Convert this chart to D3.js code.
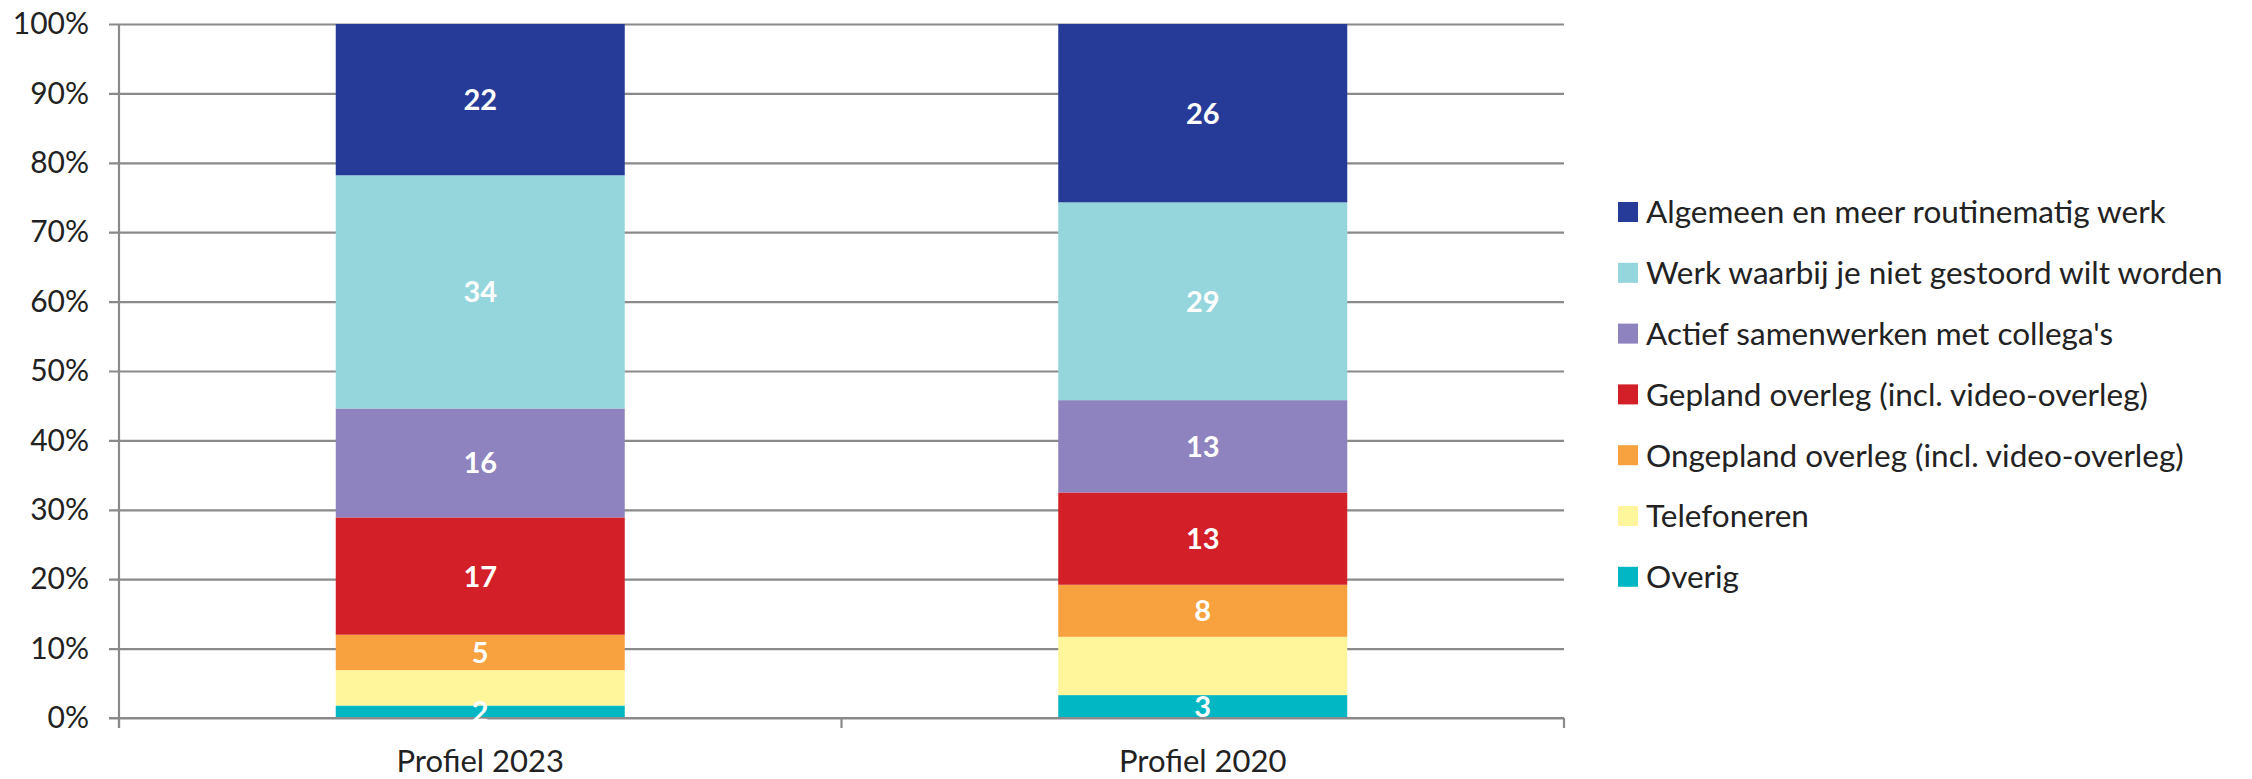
<!DOCTYPE html>
<html>
<head>
<meta charset="utf-8">
<script src="https://cdn.jsdelivr.net/npm/d3@7"></script>
<style>
  html, body { margin: 0; padding: 0; background: #ffffff; }
  svg { display: block; }
  text { font-family: Lato, "Open Sans", sans-serif; }
</style>
</head>
<body>
<svg id="chart" width="2252" height="779"></svg>
<script>
// ---- Data ----
const categories = ["Profiel 2023", "Profiel 2020"];
// series listed top-to-bottom as in the legend
const seriesNames = [
  "Algemeen en meer routinematig werk",
  "Werk waarbij je niet gestoord wilt worden",
  "Actief samenwerken met collega's",
  "Gepland overleg (incl. video-overleg)",
  "Ongepland overleg (incl. video-overleg)",
  "Telefoneren",
  "Overig"
];
const values2023 = [21.8, 33.6, 15.7, 16.9, 5.1, 5.1, 1.8];
const values2020 = [25.7, 28.5, 13.3, 13.3, 7.5, 8.4, 3.3];
const seriesColors = ["#263b97", "#95d6dd", "#8e83be", "#d31f28", "#f8a13f", "#fff59b", "#00b7c3"];
const yTicks = [0, 10, 20, 30, 40, 50, 60, 70, 80, 90, 100];
const labelledSeries = seriesNames.filter(n => n !== "Telefoneren");

// ---- Layout ----
const svg = d3.select("#chart");
const mLeft = 119, mRight = 1564, mTop = 24, mBottom = 718;

const x = d3.scaleBand().domain(categories).range([mLeft, mRight]).paddingInner(0.6).paddingOuter(0.3);
const y = d3.scaleLinear().domain([0, 100]).range([mBottom, mTop]);

const table = categories.map((c, i) => {
  const row = { category: c };
  const vals = i === 0 ? values2023 : values2020;
  seriesNames.forEach((s, j) => row[s] = vals[j]);
  return row;
});

// stack bottom-to-top (reverse of legend order)
const stackOrder = seriesNames.slice().reverse();
const stack = d3.stack().keys(stackOrder)(table);
const color = d3.scaleOrdinal().domain(seriesNames).range(seriesColors);

const gridColor = "#8a8a8a";

// gridlines + y ticks
const yAxis = d3.axisLeft(y).tickValues(yTicks).tickFormat(d => d + "%")
  .tickSize(-(mRight - mLeft)).tickSizeOuter(0).tickPadding(30);
const gy = svg.append("g").attr("transform", `translate(${mLeft},0)`).call(yAxis);
gy.select(".domain").remove();
gy.selectAll(".tick line").attr("stroke", gridColor).attr("stroke-width", 2.2).attr("x1", -10);
gy.selectAll(".tick text").attr("fill", "#222").attr("font-size", 30).attr("x", -30);

// bars
const layers = svg.append("g").selectAll("g").data(stack).join("g")
  .attr("fill", d => color(d.key));
layers.selectAll("rect").data(d => d.map(p => ({ p, key: d.key }))).join("rect")
  .attr("x", d => x(d.p.data.category))
  .attr("width", x.bandwidth())
  .attr("y", d => y(d.p[1]))
  .attr("height", d => y(d.p[0]) - y(d.p[1]));

// axes lines
svg.append("line").attr("x1", mLeft).attr("x2", mLeft).attr("y1", mTop).attr("y2", mBottom + 10)
  .attr("stroke", gridColor).attr("stroke-width", 2.2);
svg.append("line").attr("x1", mLeft - 10).attr("x2", mRight).attr("y1", mBottom).attr("y2", mBottom)
  .attr("stroke", gridColor).attr("stroke-width", 2.2);
const xTickPos = [mLeft].concat(categories.map(c => x(c) + x.bandwidth() / 2 + x.step() / 2));
svg.append("g").selectAll("line").data(xTickPos).join("line")
  .attr("x1", d => d).attr("x2", d => d).attr("y1", mBottom).attr("y2", mBottom + 10)
  .attr("stroke", gridColor).attr("stroke-width", 2.2);

// x labels
svg.append("g").selectAll("text").data(categories).join("text")
  .attr("x", d => x(d) + x.bandwidth() / 2)
  .attr("y", 772)
  .attr("text-anchor", "middle")
  .attr("font-size", 31)
  .attr("fill", "#222")
  .text(d => d);

// value labels
const labelData = [];
stack.forEach(layer => {
  if (!labelledSeries.includes(layer.key)) return;
  layer.forEach(p => labelData.push({ key: layer.key, p }));
});
svg.append("g").selectAll("text").data(labelData).join("text")
  .attr("x", d => x(d.p.data.category) + x.bandwidth() / 2)
  .attr("y", d => y((d.p[0] + d.p[1]) / 2))
  .attr("dy", "0.36em")
  .attr("text-anchor", "middle")
  .attr("font-size", 29)
  .attr("font-weight", "bold")
  .attr("fill", "#ffffff")
  .text(d => Math.round(d.p[1] - d.p[0]));

// legend
const legend = svg.append("g").attr("transform", "translate(1618,0)");
const lg = legend.selectAll("g").data(seriesNames).join("g")
  .attr("transform", (d, i) => `translate(0, ${212 + i * 60.8})`);
lg.append("rect").attr("x", 0).attr("y", -10).attr("width", 20).attr("height", 20)
  .attr("fill", d => color(d));
lg.append("text").attr("x", 28).attr("y", 0).attr("dy", "0.36em")
  .attr("font-size", 31.5).attr("fill", "#222").text(d => d);
</script>
</body>
</html>
